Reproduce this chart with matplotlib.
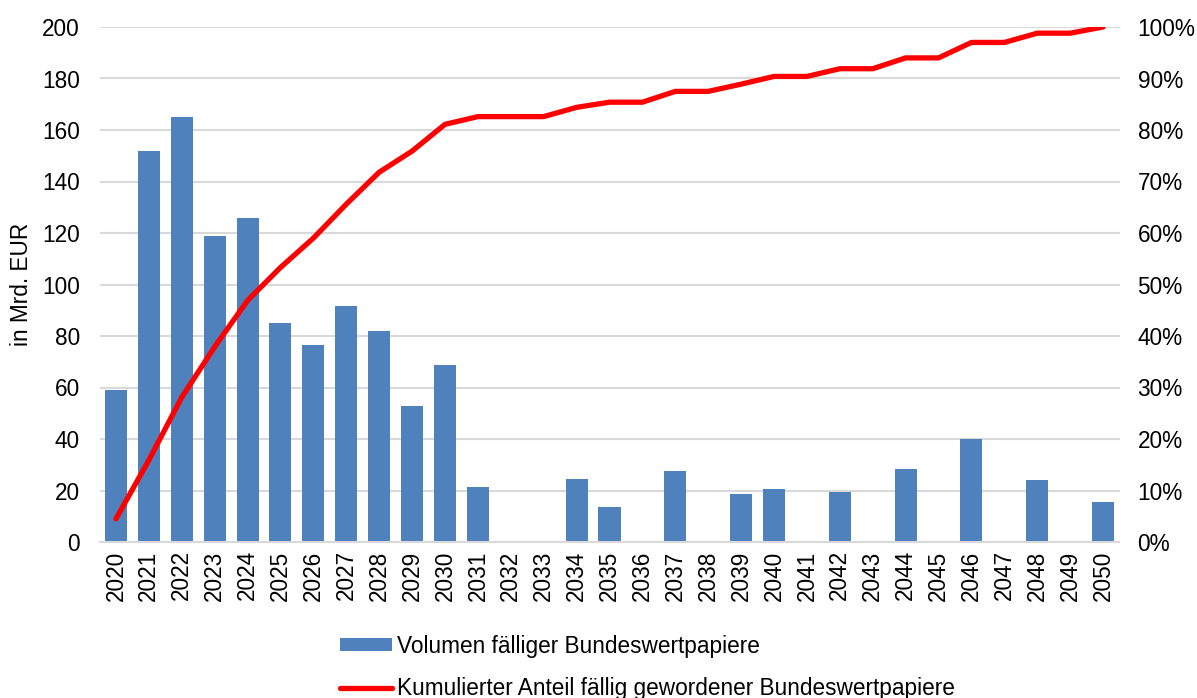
import matplotlib
matplotlib.use("Agg")
import matplotlib.pyplot as plt
from matplotlib.patches import Patch
from matplotlib.lines import Line2D
from matplotlib.ticker import FuncFormatter

plt.rcParams['font.family'] = ['Liberation Sans', 'DejaVu Sans']

years = list(range(2020, 2051))
volumen = [59, 152, 165, 119, 126, 85, 76.5, 91.7, 82, 53, 68.8,
           21.5, 0, 0, 24.5, 13.5, 0, 27.5, 0, 18.5, 20.5,
           0, 19.5, 0, 28.5, 0, 40, 0, 24, 0, 15.5]
kumuliert = [4.5, 15.9, 28.1, 37.9, 46.9, 53.3, 59.0, 65.6, 71.8, 75.9, 81.1,
             82.6, 82.6, 82.6, 84.4, 85.4, 85.4, 87.5, 87.5, 88.9, 90.4,
             90.4, 91.9, 91.9, 94.0, 94.0, 97.0, 97.0, 98.8, 98.8, 100.0]

label_bar = "Volumen fälliger Bundeswertpapiere"
label_line = "Kumulierter Anteil fällig gewordener Bundeswertpapiere"
ylabel = "in Mrd. EUR"

W, H = 1197, 698
fig = plt.figure(figsize=(W / 100, H / 100), dpi=100)
ax = fig.add_axes([99.5 / W, (H - 542) / H, 1020 / W, 515 / H])
ax2 = ax.twinx()

bar_color = "#4F81BD"
grid_color = "#D9D9D9"
fs = 16.3

x = list(range(len(years)))
ax.bar(x, volumen, width=0.67, color=bar_color, zorder=2)
ax.set_xlim(-0.5, len(years) - 0.5)
ax.set_ylim(0, 200)
ax.set_yticks(range(0, 201, 20))
ax.yaxis.grid(True, color=grid_color, linewidth=1.5, zorder=0)
ax.set_axisbelow(True)
ax.set_xticks(x)
ax.set_xticklabels([str(y) for y in years], rotation=90, fontsize=fs)
ax.tick_params(axis='both', length=0, labelsize=fs)
ax.tick_params(axis='y', pad=14)
ax.tick_params(axis='x', pad=6)
for s in ['top', 'left', 'right']:
    ax.spines[s].set_visible(False)
ax.spines['bottom'].set_color(grid_color)
ax.spines['bottom'].set_linewidth(1.5)
ax.set_ylabel(ylabel, fontsize=fs)
ax.yaxis.set_label_coords((33 - 99.5) / 1020, 0.5)

ax2.plot(x, kumuliert, color="#FF0000", linewidth=3.8, solid_capstyle='round', zorder=3)
ax2.set_ylim(0, 100)
ax2.set_yticks(range(0, 101, 10))
ax2.yaxis.set_major_formatter(FuncFormatter(lambda v, p: f"{int(v)}%"))
ax2.tick_params(axis='y', length=0, labelsize=fs, pad=13)
for s in ['top', 'left', 'right', 'bottom']:
    ax2.spines[s].set_visible(False)

handles = [Patch(facecolor=bar_color, edgecolor='none'),
           Line2D([0], [0], color="#FF0000", linewidth=3.8, solid_capstyle='round')]
fig.legend(handles, [label_bar, label_line], loc='center left',
           bbox_to_anchor=(340 / W, (H - 667.5) / H), frameon=False,
           fontsize=fs, handlelength=2.3, handleheight=0.5, handletextpad=0.2,
           labelspacing=0.85, borderpad=0, borderaxespad=0)

fig.savefig("out.png", dpi=100)
